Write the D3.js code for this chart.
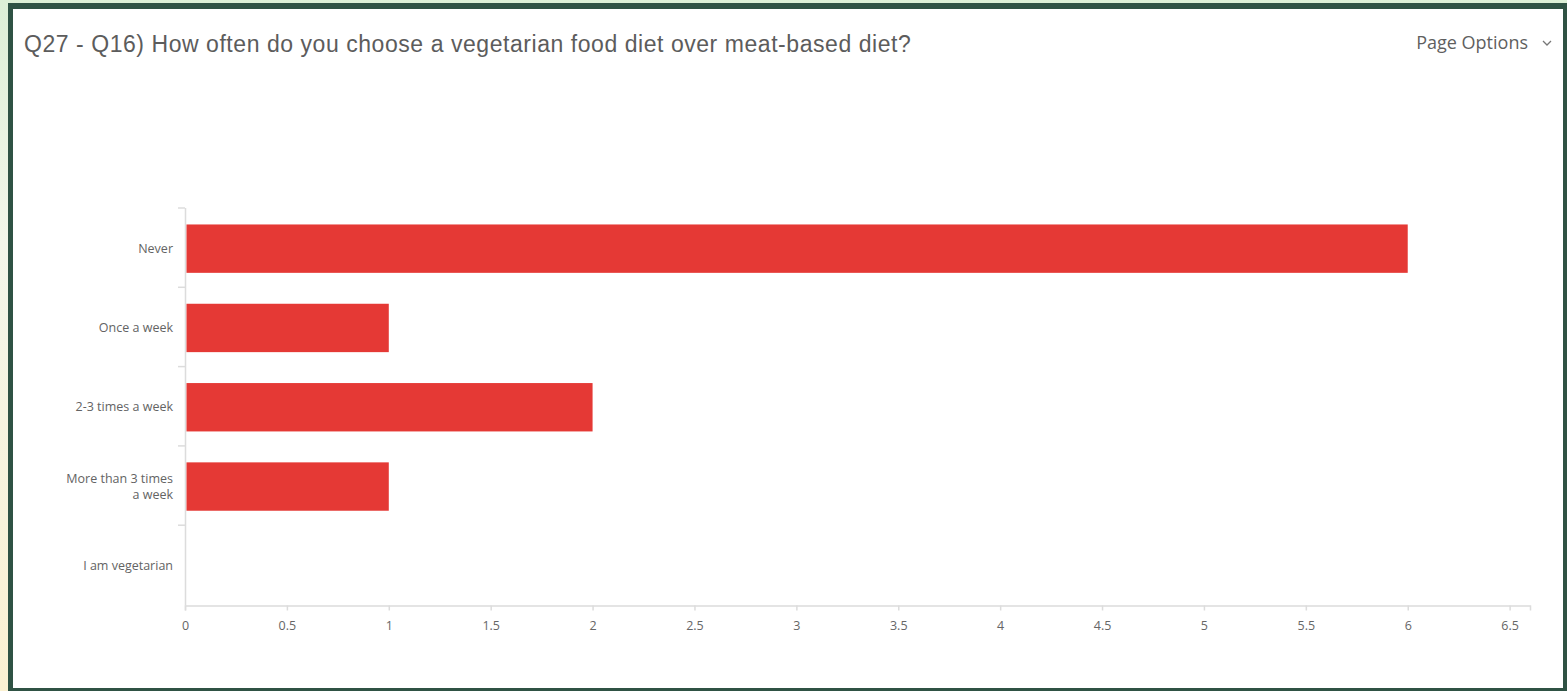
<!DOCTYPE html>
<html lang="en">
    <head>
        <meta charset="utf-8">
        <title>Q27 - Q16</title>
        <script type="text/javascript" src="https://cdnjs.cloudflare.com/ajax/libs/d3/7.8.5/d3.min.js"></script>
        <style>
            html, body { margin: 0; padding: 0; overflow: hidden; }
            svg { display: block; }
        </style>
    </head>
    <body>
        <div id="chart"></div>
        <script type="text/javascript">
            // answers and counts
            var categories = ["Never", "Once a week", "2-3 times a week", "More than 3 times a week", "I am vegetarian"];
            var counts = [6, 1, 2, 1, 0];
            var xTicks = [0, 0.5, 1, 1.5, 2, 2.5, 3, 3.5, 4, 4.5, 5, 5.5, 6, 6.5];
            var title = "Q27 - Q16) How often do you choose a vegetarian food diet over meat-based diet?";

            var W = 1567, H = 691;
            var dataset = categories.map(function(c, i) { return { label: c, value: counts[i] }; });

            var svg = d3.select("#chart").append("svg")
                .attr("width", W)
                .attr("height", H);

            // outer background, greenish at top fading to cream
            var grad = svg.append("defs").append("linearGradient")
                .attr("id", "bg").attr("x1", 0).attr("y1", 0).attr("x2", 0).attr("y2", 1);
            grad.append("stop").attr("offset", "0%").attr("stop-color", "#dcefd6");
            grad.append("stop").attr("offset", "35%").attr("stop-color", "#f3f6ea");
            grad.append("stop").attr("offset", "100%").attr("stop-color", "#fbf1d2");
            svg.append("rect").attr("width", W).attr("height", H).attr("fill", "url(#bg)");

            // dark frame + white card
            svg.append("rect").attr("x", 8).attr("y", 3).attr("width", W - 8).attr("height", H - 3).attr("fill", "#2f5244");
            svg.append("rect").attr("x", 13).attr("y", 9).attr("width", 1550).attr("height", 679).attr("fill", "#ffffff");

            svg.append("text")
                .attr("x", 24).attr("y", 52)
                .attr("font-family", "'Liberation Sans', Arial, sans-serif")
                .attr("font-size", 23)
                .attr("letter-spacing", 0.55)
                .attr("fill", "#5c5c5c")
                .text(title);

            svg.append("text")
                .attr("x", 1528).attr("y", 49)
                .attr("text-anchor", "end")
                .attr("font-family", "'Open Sans', sans-serif")
                .attr("font-size", 18)
                .attr("fill", "#5f5f5f")
                .text("Page Options");
            // little chevron
            svg.append("path")
                .attr("d", "M1543,41 L1547,45 L1551,41")
                .attr("fill", "none")
                .attr("stroke", "#777")
                .attr("stroke-width", 1.3);

            var plotLeft = 185, plotRight = 1530, plotTop = 209, plotBottom = 605.5;

            var xScale = d3.scaleLinear()
                .domain([0, 6.6])
                .range([plotLeft, plotRight]);

            var yScale = d3.scaleBand()
                .domain(categories)
                .range([plotTop, plotBottom])
                .paddingInner(0.39)
                .paddingOuter(0.195);

            var axisColor = "#dcdcdc";

            // x axis
            var xAxis = d3.axisBottom(xScale)
                .tickValues(xTicks)
                .tickSize(5)
                .tickPadding(11)
                .tickFormat(function(d) { return d; });
            var gx = svg.append("g")
                .attr("transform", "translate(0," + plotBottom + ")")
                .call(xAxis);
            gx.select(".domain").attr("stroke", axisColor).attr("stroke-width", 1.5);
            gx.selectAll(".tick line").attr("stroke", axisColor).attr("stroke-width", 1.5);
            gx.selectAll(".tick text")
                .attr("fill", "#666")
                .attr("font-family", "'Open Sans', sans-serif")
                .attr("font-size", 12.5);

            // y axis: line plus ticks at band boundaries
            var step = yScale.step();
            svg.append("line")
                .attr("x1", plotLeft + 0.5).attr("x2", plotLeft + 0.5)
                .attr("y1", plotTop - 1).attr("y2", plotBottom)
                .attr("stroke", axisColor).attr("stroke-width", 1.5);
            svg.selectAll(".ytick")
                .data(categories)
                .enter().append("line")
                .attr("class", "ytick")
                .attr("x1", plotLeft - 7).attr("x2", plotLeft)
                .attr("y1", function(d, i) { return plotTop - 1 + i * step; })
                .attr("y2", function(d, i) { return plotTop - 1 + i * step; })
                .attr("stroke", axisColor).attr("stroke-width", 1.5);

            // category labels, wrapped like the original
            var labels = svg.selectAll(".ylabel")
                .data(categories)
                .enter().append("text")
                .attr("class", "ylabel")
                .attr("x", 173)
                .attr("y", function(d) { return yScale(d) + yScale.bandwidth() / 2; })
                .attr("text-anchor", "end")
                .attr("font-family", "'Open Sans', sans-serif")
                .attr("font-size", 12.5)
                .attr("fill", "#636363")
                .text(function(d) { return d; });
            labels.each(function(d) { wrap(d3.select(this), 112); });

            // bars
            svg.selectAll(".bar")
                .data(dataset)
                .enter().append("rect")
                .attr("class", "bar")
                .attr("x", xScale(0) + 1.5)
                .attr("y", function(d) { return yScale(d.label); })
                .attr("width", function(d) { return Math.max(0, xScale(d.value) - xScale(0) - 1.5); })
                .attr("height", yScale.bandwidth())
                .attr("fill", "#e53935");

            // split a label into lines no wider than width, vertically centred
            function wrap(text, width) {
                var words = text.text().split(/\s+/),
                    x = text.attr("x"),
                    y = +text.attr("y"),
                    lines = [], line = [];
                text.text(null);
                var probe = text.append("tspan");
                words.forEach(function(w) {
                    line.push(w);
                    probe.text(line.join(" "));
                    if (probe.node().getComputedTextLength() > width && line.length > 1) {
                        line.pop();
                        lines.push(line.join(" "));
                        line = [w];
                    }
                });
                lines.push(line.join(" "));
                probe.remove();
                var lh = 16;
                var y0 = y - (lines.length - 1) * lh / 2 + 4;
                lines.forEach(function(l, i) {
                    text.append("tspan").attr("x", x).attr("y", y0 + i * lh).text(l);
                });
            }
        </script>
    </body>
</html>
